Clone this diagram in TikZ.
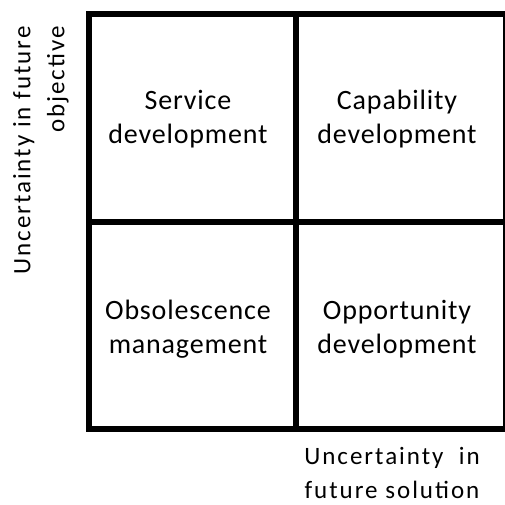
\documentclass[tikz,border=0pt]{standalone}
\usepackage{fontspec}
\setmainfont{Carlito}
\newfontfamily\cellfont[LetterSpace=3]{Carlito}
\newfontfamily\axisfont[LetterSpace=8]{Carlito}

\tikzset{
	cell/.style={align=center, font=\cellfont\fontsize{28}{33.5}\selectfont},
	axis/.style={align=right, inner sep=0pt, font=\axisfont\fontsize{25}{34}\selectfont}
}

\begin{document}
\begin{tikzpicture}[x=1pt, y=1pt, line join=miter]
			\useasboundingbox (0,0) rectangle (505,504);
			% corners and middle of the grid
			\coordinate (TL) at (88.5, 490);
			\coordinate (TR) at (506, 490);
			\coordinate (BL) at (88.5, 75);
			\coordinate (BR) at (506, 75);
			\coordinate (M) at (296, 282.5);
			\draw[line width=6pt] (TR) -- (TL) -- (BL) -- (BR) -- cycle;
			\draw[line width=6pt] (TL -| M) -- (BL -| M) (TL |- M) -- (TR |- M);
			% quadrant labels
			\node[cell] (service) at (188, 385) {Service\\development};
			\node[cell] (capability) at (397, 385) {Capability\\development};
			\node[cell] (obsolescence) at (188, 175) {Obsolescence\\management};
			\node[cell] (opportunity) at (397, 175) {Opportunity\\development};
			% axes
			\node[axis, rotate=90, anchor=east] (yaxis) at (41, 478) {Uncertainty in future\\objective};
			\node[axis, align=center] (xaxis) at (392, 31) {Uncertainty\ \ in\\future solution};
		\end{tikzpicture}
\end{document}
